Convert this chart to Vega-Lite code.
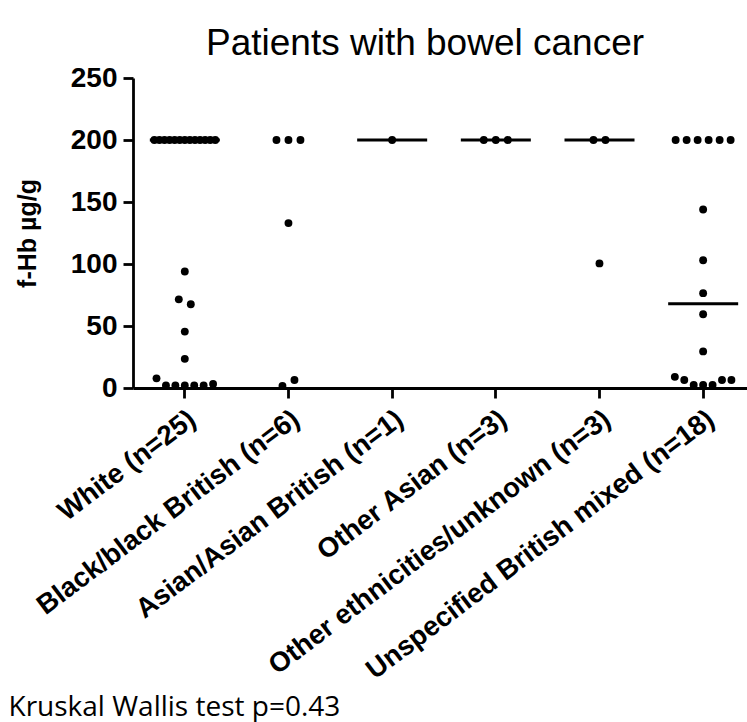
{
  "$schema": "https://vega.github.io/schema/vega-lite/v6.json",
  "autosize": "none",
  "width": 614,
  "height": 310,
  "padding": {"left": 133, "top": 78, "right": 0, "bottom": 334},
  "background": "white",
  "config": {
    "view": {"stroke": null},
    "font": "Liberation Sans",
    "axis": {"grid": false, "domainColor": "black", "tickColor": "black", "labelColor": "black", "titleColor": "black", "domainWidth": 2.8, "tickWidth": 2.8}
  },
  "title": {
    "text": "Patients with bowel cancer",
    "fontSize": 37,
    "fontWeight": "normal",
    "font": "Liberation Sans",
    "color": "black",
    "frame": "group",
    "anchor": "middle",
    "baseline": "alphabetic",
    "offset": 21,
    "dx": -15,
    "dy": 49
  },
  "data": {
    "values": [
      {"group": "White (n=25)", "value": 200}, {"group": "White (n=25)", "value": 200}, {"group": "White (n=25)", "value": 200},
      {"group": "White (n=25)", "value": 200}, {"group": "White (n=25)", "value": 200}, {"group": "White (n=25)", "value": 200},
      {"group": "White (n=25)", "value": 200}, {"group": "White (n=25)", "value": 200}, {"group": "White (n=25)", "value": 200},
      {"group": "White (n=25)", "value": 200}, {"group": "White (n=25)", "value": 200}, {"group": "White (n=25)", "value": 200},
      {"group": "White (n=25)", "value": 200},
      {"group": "White (n=25)", "value": 94},
      {"group": "White (n=25)", "value": 71.5},
      {"group": "White (n=25)", "value": 67.5},
      {"group": "White (n=25)", "value": 45.5},
      {"group": "White (n=25)", "value": 23.5},
      {"group": "White (n=25)", "value": 7.8},
      {"group": "White (n=25)", "value": 2}, {"group": "White (n=25)", "value": 2}, {"group": "White (n=25)", "value": 2},
      {"group": "White (n=25)", "value": 2}, {"group": "White (n=25)", "value": 2},
      {"group": "White (n=25)", "value": 3.2},
      {"group": "Black/black British (n=6)", "value": 200}, {"group": "Black/black British (n=6)", "value": 200}, {"group": "Black/black British (n=6)", "value": 200},
      {"group": "Black/black British (n=6)", "value": 133},
      {"group": "Black/black British (n=6)", "value": 1.6},
      {"group": "Black/black British (n=6)", "value": 6.5},
      {"group": "Asian/Asian British (n=1)", "value": 200},
      {"group": "Other Asian (n=3)", "value": 200}, {"group": "Other Asian (n=3)", "value": 200}, {"group": "Other Asian (n=3)", "value": 200},
      {"group": "Other ethnicities/unknown (n=3)", "value": 200}, {"group": "Other ethnicities/unknown (n=3)", "value": 200},
      {"group": "Other ethnicities/unknown (n=3)", "value": 100.5},
      {"group": "Unspecified British mixed (n=18)", "value": 200}, {"group": "Unspecified British mixed (n=18)", "value": 200}, {"group": "Unspecified British mixed (n=18)", "value": 200},
      {"group": "Unspecified British mixed (n=18)", "value": 200}, {"group": "Unspecified British mixed (n=18)", "value": 200}, {"group": "Unspecified British mixed (n=18)", "value": 200},
      {"group": "Unspecified British mixed (n=18)", "value": 144},
      {"group": "Unspecified British mixed (n=18)", "value": 103},
      {"group": "Unspecified British mixed (n=18)", "value": 76.5},
      {"group": "Unspecified British mixed (n=18)", "value": 59.5},
      {"group": "Unspecified British mixed (n=18)", "value": 29.5},
      {"group": "Unspecified British mixed (n=18)", "value": 9},
      {"group": "Unspecified British mixed (n=18)", "value": 6.5},
      {"group": "Unspecified British mixed (n=18)", "value": 2.4}, {"group": "Unspecified British mixed (n=18)", "value": 2.4}, {"group": "Unspecified British mixed (n=18)", "value": 2.4},
      {"group": "Unspecified British mixed (n=18)", "value": 6.5},
      {"group": "Unspecified British mixed (n=18)", "value": 6.5}
    ]
  },
  "layer": [
    {
      "transform": [
        {"aggregate": [{"op": "median", "field": "value", "as": "median"}], "groupby": ["group"]},
        {"filter": "datum.group !== 'Black/black British (n=6)'"}
      ],
      "mark": {"type": "tick", "orient": "horizontal", "size": 70, "thickness": 3, "color": "black", "opacity": 1},
      "encoding": {
        "x": {"field": "group", "type": "nominal"},
        "y": {"field": "median", "type": "quantitative"}
      }
    },
    {
      "transform": [
        {"calculate": "floor(datum.value / 10.5)", "as": "ybin"},
        {"window": [{"op": "row_number", "as": "rank"}, {"op": "count", "as": "n"}], "groupby": ["group", "ybin"], "frame": [null, null]},
        {"calculate": "(datum.rank - (datum.n + 1) / 2) * min(12, 66 / datum.n)", "as": "off"}
      ],
      "mark": {"type": "circle", "size": 62, "color": "black", "opacity": 1},
      "encoding": {
        "x": {"field": "group", "type": "nominal"},
        "xOffset": {"field": "off", "type": "quantitative", "scale": {"domain": [-51.8, 51.8], "range": [0, 103.6]}},
        "y": {"field": "value", "type": "quantitative"}
      }
    }
  ],
  "resolve": {"scale": {"x": "shared", "y": "shared"}},
  "encoding": {
    "x": {
      "field": "group",
      "type": "nominal",
      "sort": ["White (n=25)", "Black/black British (n=6)", "Asian/Asian British (n=1)", "Other Asian (n=3)", "Other ethnicities/unknown (n=3)", "Unspecified British mixed (n=18)"],
      "scale": {"range": [0, 622], "paddingInner": 0, "paddingOuter": 0},
      "axis": {
        "title": "Kruskal Wallis test p=0.43",
        "titleFont": "Open Sans",
        "titleFontSize": 28,
        "titleFontWeight": "normal",
        "titleX": -125,
        "titleY": 327,
        "titleAlign": "left",
        "titleBaseline": "alphabetic",
        "labelAngle": -37,
        "labelAlign": "right",
        "labelBaseline": "middle",
        "labelFontSize": 27.5,
        "labelFontWeight": "bold",
        "labelPadding": 18,
        "labelOffset": 8,
        "labelLimit": 1000,
        "tickSize": 10
      }
    },
    "y": {
      "type": "quantitative",
      "scale": {"domain": [0, 250], "nice": false},
      "axis": {
        "title": "f-Hb µg/g",
        "titleFontSize": 25,
        "titleFontWeight": "bold",
        "titleX": -106,
        "titleY": 155,
        "titleAngle": -90,
        "titleAlign": "center",
        "titleBaseline": "middle",
        "values": [0, 50, 100, 150, 200, 250],
        "labelFontSize": 28,
        "labelFontWeight": "bold",
        "labelPadding": 6,
        "tickSize": 10
      }
    }
  }
}
